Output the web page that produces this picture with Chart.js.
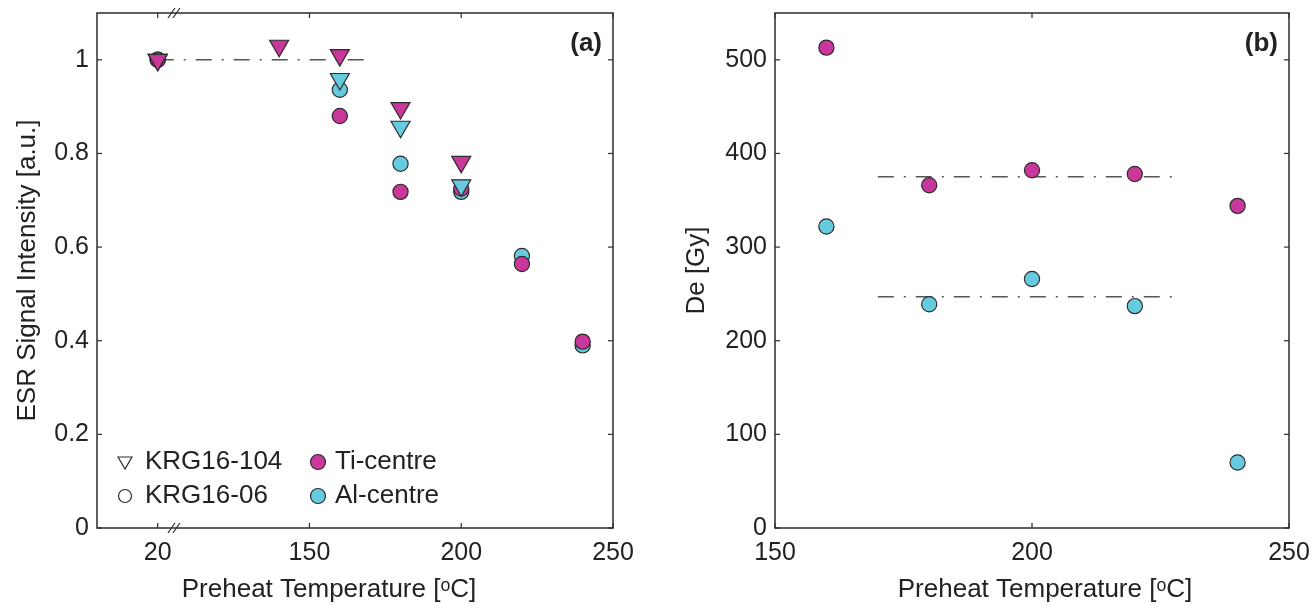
<!DOCTYPE html>
<html>
<head>
<meta charset="utf-8">
<script src="https://cdn.jsdelivr.net/npm/chart.js@4.4.0/dist/chart.umd.min.js"></script>
<style>
  html, body { margin: 0; padding: 0; background: #fff; }
  canvas { position: absolute; top: 0; }
  #chartA { left: 0; }
  #chartB { left: 660px; }
</style>
</head>
<body>
<canvas id="chartA" width="660" height="605"></canvas>
<canvas id="chartB" width="654" height="605"></canvas>
<script>
// panel (a) - normalised ESR intensity
// triangles = KRG16-104, circles = KRG16-06
var tempTri  = [20, 140, 160, 180, 200];
var tiTri    = [1.00, 1.03, 1.01, 0.897, 0.782];
var alTri    = [1.00, null, 0.959, 0.857, 0.732];
var tempCirc = [20, 160, 180, 200, 220, 240];
var tiCirc   = [1.00, 0.880, 0.718, 0.725, 0.564, 0.398];
var alCirc   = [1.00, 0.936, 0.778, 0.718, 0.581, 0.390];
var refTempA = [20, 170];
var refValA  = 1;
var xTicksA  = [20, 150, 200, 250];
var yTicksA  = [0, 0.2, 0.4, 0.6, 0.8, 1];

// panel (b) - De [Gy]
var tempB    = [160, 180, 200, 220, 240];
var deTi     = [513, 366, 382, 378, 344];
var deAl     = [322, 239, 266, 237, 70];
var plateauB = [170, 228];
var meanTi   = 375;
var meanAl   = 247;
var xTicksB  = [150, 200, 250];
var yTicksB  = [0, 100, 200, 300, 400, 500];

var TI = '#c9379a';
var AL = '#67cbe0';
var EDGE = '#2d2d2d';
var FONT = '"Liberation Sans", Arial, Helvetica, sans-serif';

// broken axis: the 20 degC point sits where 100 would be
function brk(t) { return t === 20 ? 100 : t; }

function pts(xs, ys, f) {
  var out = [];
  for (var i = 0; i < xs.length; i++) {
    if (ys[i] === null) continue;
    out.push({x: f ? f(xs[i]) : xs[i], y: ys[i]});
  }
  return out;
}

function marker(data, color, style) {
  return {
    data: data,
    showLine: false,
    pointStyle: style,
    pointRotation: style === 'triangle' ? 180 : 0,
    pointRadius: style === 'triangle' ? 11 : 7.6,
    pointBackgroundColor: color,
    pointBorderColor: EDGE,
    pointBorderWidth: 1.2
  };
}

function refLine(data) {
  return {
    data: data,
    showLine: true,
    pointRadius: 0,
    borderColor: '#555',
    borderWidth: 1.5,
    borderDash: [16, 10, 2, 10]
  };
}

function line(ctx, x1, y1, x2, y2) {
  ctx.beginPath(); ctx.moveTo(x1, y1); ctx.lineTo(x2, y2); ctx.stroke();
}

// box, inward ticks, axis break marks, panel letter, legend
var decor = {
  id: 'decor',
  afterDatasetsDraw: function(chart, args, opts) {
    var ctx = chart.ctx, a = chart.chartArea;
    var sx = chart.scales.x, sy = chart.scales.y;
    ctx.save();
    ctx.strokeStyle = EDGE;
    ctx.lineWidth = 1.5;
    ctx.strokeRect(a.left, a.top, a.right - a.left, a.bottom - a.top);
    ctx.lineWidth = 1.2;
    sx.ticks.forEach(function(t) {
      var x = sx.getPixelForValue(t.value);
      line(ctx, x, a.bottom, x, a.bottom - 5);
      line(ctx, x, a.top, x, a.top + 5);
    });
    sy.ticks.forEach(function(t) {
      var y = sy.getPixelForValue(t.value);
      line(ctx, a.left, y, a.left + 5, y);
      line(ctx, a.right, y, a.right - 5, y);
    });
    if (opts.breakAt) {
      var bx = sx.getPixelForValue(opts.breakAt);
      [a.top, a.bottom].forEach(function(y) {
        line(ctx, bx - 8, y + 5, bx - 1, y - 5);
        line(ctx, bx - 3, y + 5, bx + 4, y - 5);
      });
    }
    ctx.fillStyle = '#222';
    ctx.font = 'bold 26px ' + FONT;
    ctx.textAlign = 'right';
    ctx.textBaseline = 'middle';
    ctx.fillText(opts.letter, a.right - 11, a.top + 31);

    if (opts.legend) {
      var H = Chart.helpers;
      var lx = a.left + 28, cx = a.left + 221, r1 = a.bottom - 66, r2 = a.bottom - 32;
      ctx.font = '26px ' + FONT;
      ctx.textAlign = 'left';
      ctx.strokeStyle = EDGE;
      ctx.lineWidth = 1.2;
      ctx.fillStyle = 'rgba(0,0,0,0)';
      H.drawPoint(ctx, {pointStyle: 'triangle', radius: 8, rotation: 180, borderWidth: 1.2}, lx, r1 - 1);
      H.drawPoint(ctx, {pointStyle: 'circle', radius: 6.5, rotation: 0, borderWidth: 1.2}, lx, r2);
      ctx.fillStyle = TI;
      H.drawPoint(ctx, {pointStyle: 'circle', radius: 7.5, rotation: 0, borderWidth: 1.2}, cx, r1);
      ctx.fillStyle = AL;
      H.drawPoint(ctx, {pointStyle: 'circle', radius: 7.5, rotation: 0, borderWidth: 1.2}, cx, r2);
      ctx.fillStyle = '#222';
      ctx.fillText('KRG16-104', lx + 20, r1);
      ctx.fillText('KRG16-06', lx + 20, r2);
      ctx.fillText('Ti-centre', cx + 17, r1);
      ctx.fillText('Al-centre', cx + 17, r2);
    }
    ctx.restore();
  }
};

function axes(o) {
  return {
    x: {
      type: 'linear', min: o.xmin, max: o.xmax,
      grid: {display: false, drawTicks: false}, border: {display: false},
      afterBuildTicks: function(s) { s.ticks = o.xt.map(function(v) { return {value: o.xf ? o.xf(v) : v}; }); },
      afterFit: function(s) { s.height = 77; s.paddingLeft = 0; s.paddingRight = 0; },
      ticks: {
        padding: 10, color: '#222', font: {family: FONT, size: 25},
        callback: function(v, i) { return String(o.xt[i]); }
      },
      title: {display: true, text: o.xTitle, color: '#222', font: {family: FONT, size: 26}, padding: {top: 0, bottom: 0}}
    },
    y: {
      type: 'linear', min: 0, max: o.ymax,
      grid: {display: false, drawTicks: false}, border: {display: false},
      afterBuildTicks: function(s) { s.ticks = o.yt.map(function(v) { return {value: v}; }); },
      afterFit: function(s) { s.width = o.yWidth; s.paddingTop = 0; s.paddingBottom = 0; },
      ticks: {
        padding: 8, color: '#222', font: {family: FONT, size: 25},
        callback: function(v, i) { return String(o.yt[i]); }
      },
      title: {display: true, text: o.yTitle, color: '#222', font: {family: FONT, size: 26}, padding: {top: o.yTitlePad, bottom: 0}}
    }
  };
}

var common = {
  responsive: false,
  animation: false,
  events: [],
  plugins: {legend: {display: false}, tooltip: {enabled: false}}
};

new Chart(document.getElementById('chartA'), {
  type: 'scatter',
  data: {
    datasets: [
      marker(pts(tempTri, tiTri, brk), TI, 'triangle'),
      marker(pts(tempTri, alTri, brk), AL, 'triangle'),
      marker(pts(tempCirc, tiCirc, brk), TI, 'circle'),
      marker(pts(tempCirc, alCirc, brk), AL, 'circle'),
      refLine(pts(refTempA, [refValA, refValA], brk))
    ]
  },
  options: Object.assign({}, common, {
    layout: {padding: {left: 0, top: 13, right: 47, bottom: 0}},
    scales: axes({
      xmin: 80, xmax: 250, xt: xTicksA, xf: brk,
      ymax: 1.1, yt: yTicksA, yWidth: 97, yTitlePad: 12,
      xTitle: 'Preheat Temperature [\u1D52C]\u2003\u2003',
      yTitle: 'ESR Signal Intensity [a.u.]'
    }),
    plugins: Object.assign({}, common.plugins, {decor: {letter: '(a)', breakAt: 106, legend: true}})
  }),
  plugins: [decor]
});

new Chart(document.getElementById('chartB'), {
  type: 'scatter',
  data: {
    datasets: [
      marker(pts(tempB, deTi), TI, 'circle'),
      marker(pts(tempB, deAl), AL, 'circle'),
      refLine(pts(plateauB, [meanTi, meanTi])),
      refLine(pts(plateauB, [meanAl, meanAl]))
    ]
  },
  options: Object.assign({}, common, {
    layout: {padding: {left: 0, top: 13, right: 25, bottom: 0}},
    scales: axes({
      xmin: 150, xmax: 250, xt: xTicksB,
      ymax: 550, yt: yTicksB, yWidth: 115, yTitlePad: 21,
      xTitle: '\u2003Preheat Temperature [\u1D52C]',
      yTitle: 'De [Gy]'
    }),
    plugins: Object.assign({}, common.plugins, {decor: {letter: '(b)'}})
  }),
  plugins: [decor]
});
</script>
</body>
</html>
